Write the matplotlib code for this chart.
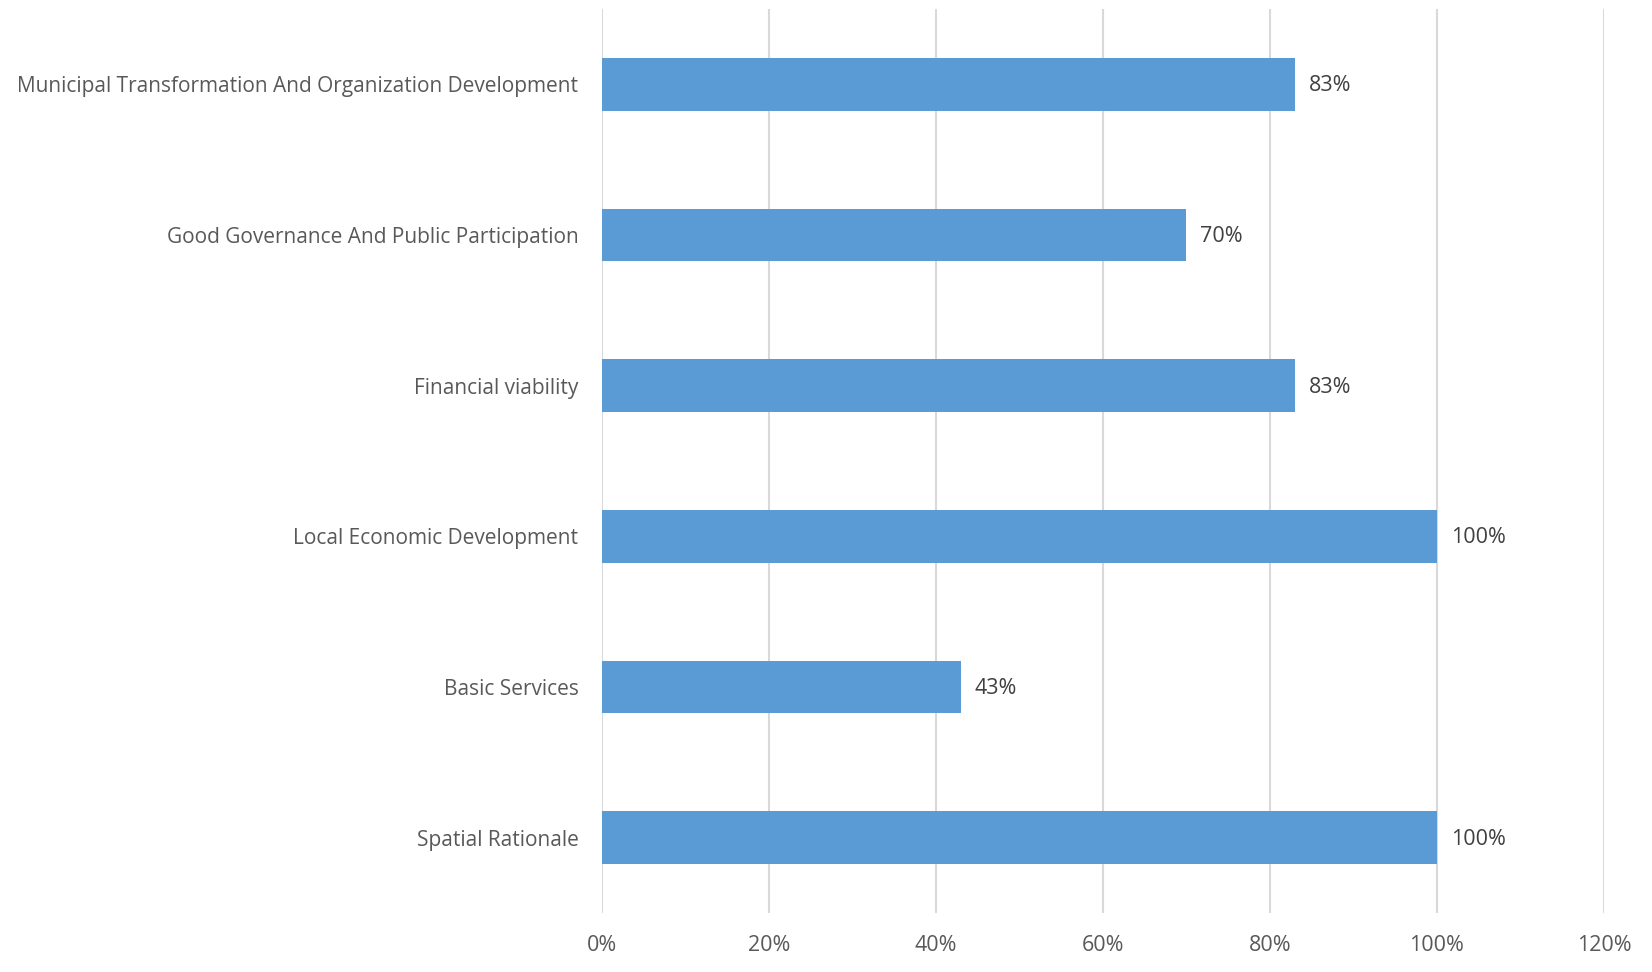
import matplotlib
matplotlib.use("Agg")
import numpy as np
from matplotlib import pyplot as plt
from matplotlib.ticker import FuncFormatter

categories = [
    "Spatial Rationale",
    "Basic Services",
    "Local Economic Development",
    "Financial viability",
    "Good Governance And Public Participation",
    "Municipal Transformation And Organization Development",
]
values = [100, 43, 100, 83, 70, 83]
xticks = [0, 20, 40, 60, 80, 100, 120]

plt.rcParams['font.family'] = ['Open Sans', 'DejaVu Sans']
text_color = '#595959'
bar_color = '#5B9BD5'

fig = plt.figure(figsize=(16.52, 9.72), dpi=100)
ax = fig.add_axes([0.3644, 0.0607, 0.6065, 0.93])

y = np.arange(len(categories))
ax.barh(y, values, height=0.35, color=bar_color, zorder=3)
for yi, v in zip(y, values):
    ax.annotate(f"{v}%", (v, yi), xytext=(10, -1), textcoords='offset points',
                va='center', ha='left', fontsize=15.5, color='#404040')

ax.set_xlim(0, 120)
ax.set_ylim(-0.5, len(categories) - 0.5)
ax.set_xticks(xticks)
ax.xaxis.set_major_formatter(FuncFormatter(lambda x, p: f"{int(x)}%"))
ax.set_yticks(y)
ax.set_yticklabels(categories)
ax.grid(axis='x', color='#D9D9D9', linewidth=1.5, zorder=0)
for s in ax.spines.values():
    s.set_visible(False)
ax.tick_params(axis='y', length=0, labelsize=15, colors=text_color, pad=17)
ax.tick_params(axis='x', length=0, labelsize=15.5, colors=text_color, pad=16)

fig.savefig("out.png", dpi=100)
